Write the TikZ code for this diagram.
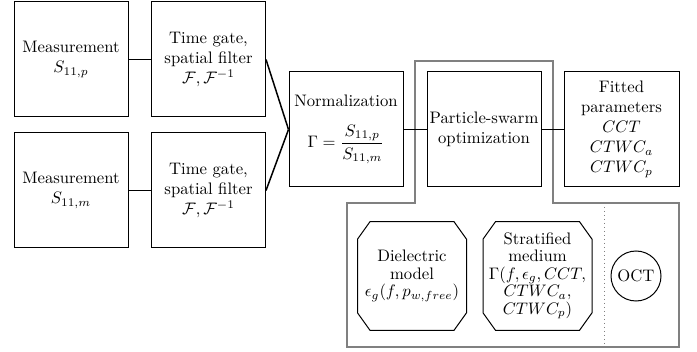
\documentclass[tikz,border=0pt]{standalone}
\usepackage{amsmath}
\begin{document}
\begin{tikzpicture}[x=0.6pt,y=-0.6pt,
  box/.style={draw, line width=0.6pt, align=center, minimum width=68.4pt, minimum height=69pt, inner sep=1pt},
  conn/.style={line width=0.9pt},
  grp/.style={draw=black!50, line width=1pt},
  octo/.style={align=center, minimum width=65pt, minimum height=64.8pt, inner sep=1pt, font=\fontsize{10}{10.5}\selectfont},
]
\useasboundingbox (0,0) rectangle (697,352);
% gray group outline
\draw[grp] (415,61) -- (553,61) -- (553,203) -- (679,203) -- (679,347) -- (347,347) -- (347,203) -- (415,203) -- cycle;
\draw[black!50, line width=0.4pt, dotted] (604,203) -- (604,347);

\node[box] (m1) at (71,59.5) {Measurement\\$S_{11,p}$};
\node[box] (t1) at (208.5,59.5) {Time gate,\\spatial filter\\$\mathcal{F},\mathcal{F}^{-1}$};
\node[box] (m2) at (71,190.5) {Measurement\\$S_{11,m}$};
\node[box] (t2) at (208.5,190.5) {Time gate,\\spatial filter\\$\mathcal{F},\mathcal{F}^{-1}$};
\node[box] (norm) at (346,129.5) {Normalization\\[10pt]$\displaystyle\Gamma=\frac{S_{11,p}}{S_{11,m}}$};
\node[box] (pso) at (484,129.5) {Particle-swarm\\optimization};
\node[box, minimum width=69pt] (fit) at (621.5,129.5) {Fitted\\parameters\\$CCT$\\$CTWC_a$\\$CTWC_p$};

\node[octo] (diel) at (412,276) {Dielectric\\model\\$\epsilon_g(f,p_{w,free})$};
\node[octo] (strat) at (537.5,276) {Stratified\\medium\\$\Gamma(f,\epsilon_g,CCT,$\\$CTWC_a,$\\$CTWC_p)$};
\foreach \n in {diel,strat}{
  \draw[line width=0.6pt] ([xshift=7.5pt]\n.north west) -- ([xshift=-7.5pt]\n.north east)
    -- ([yshift=-10.5pt]\n.north east) -- ([yshift=10.5pt]\n.south east)
    -- ([xshift=-7.5pt]\n.south east) -- ([xshift=7.5pt]\n.south west)
    -- ([yshift=10.5pt]\n.south west) -- ([yshift=-10.5pt]\n.north west) -- cycle;
}
\node[draw, circle, line width=0.6pt, minimum size=30pt, inner sep=0pt] (oct) at (636,276) {OCT};

\draw[conn] (m1) -- (t1);
\draw[conn] (m2) -- (t2);
\draw[conn] (t1.east) -- (norm.west);
\draw[conn] (t2.east) -- (norm.west);
\draw[conn] (norm) -- (pso);
\draw[conn] (pso) -- (fit);
\end{tikzpicture}
\end{document}
